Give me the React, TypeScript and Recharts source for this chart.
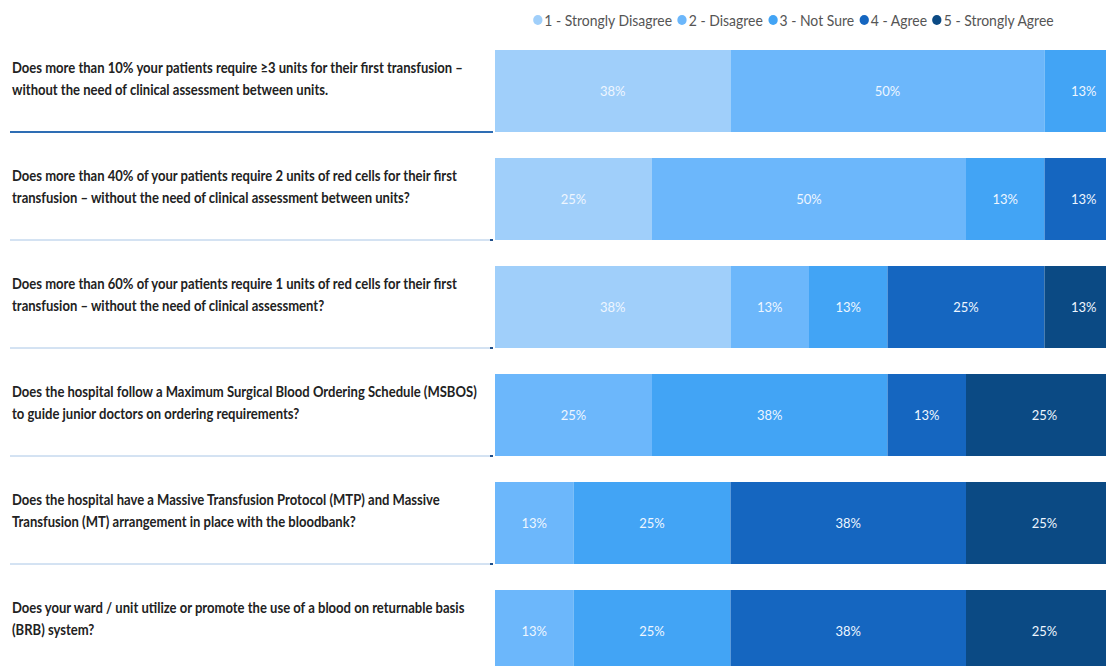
import { BarChart, Bar, XAxis, YAxis, LabelList, Legend } from 'recharts';

const QUESTIONS = [
  'Does more than 10% your patients require ≥3 units for their first transfusion –\nwithout the need of clinical assessment between units.',
  'Does more than 40% of your patients require 2 units of red cells for their first\ntransfusion – without the need of clinical assessment between units?',
  'Does more than 60% of your patients require 1 units of red cells for their first\ntransfusion – without the need of clinical assessment?',
  'Does the hospital follow a Maximum Surgical Blood Ordering Schedule (MSBOS)\nto guide junior doctors on ordering requirements?',
  'Does the hospital have a Massive Transfusion Protocol (MTP) and Massive\nTransfusion (MT) arrangement in place with the bloodbank?',
  'Does your ward / unit utilize or promote the use of a blood on returnable basis\n(BRB) system?',
];

// shares in percent (labels show them rounded)
const STRONGLY_DISAGREE = [37.5, 25, 37.5, 0, 0, 0];
const DISAGREE = [50, 50, 12.5, 25, 12.5, 12.5];
const NOT_SURE = [12.5, 12.5, 12.5, 37.5, 25, 25];
const AGREE = [0, 12.5, 25, 12.5, 37.5, 37.5];
const STRONGLY_AGREE = [0, 0, 12.5, 25, 25, 25];

const SERIES = [
  { key: 'sd', name: '1 - Strongly Disagree', color: '#a0cffa', values: STRONGLY_DISAGREE },
  { key: 'd', name: '2 - Disagree', color: '#6cb7fb', values: DISAGREE },
  { key: 'ns', name: '3 - Not Sure', color: '#42a4f5', values: NOT_SURE },
  { key: 'a', name: '4 - Agree', color: '#1566c0', values: AGREE },
  { key: 'sa', name: '5 - Strongly Agree', color: '#0b4a84', values: STRONGLY_AGREE },
];

const data = QUESTIONS.map((q, i) => {
  const row: Record<string, string | number> = { question: q };
  SERIES.forEach((s) => {
    row[s.key] = s.values[i];
  });
  return row;
});

const FONT = 'Lato, "Open Sans", sans-serif';

const QuestionTick = (props: any) => {
  const { y, payload, index } = props;
  const lines = String(payload.value).split('\n');
  const first = index === 0;
  return (
    <g>
      <g transform="translate(12 0) scale(0.87 1)">
        {lines.map((line: string, i: number) => (
          <text
            key={i}
            x={0}
            y={y - 24 + i * 22}
            fill="#222"
            fontSize={15}
            fontWeight={700}
            fontFamily={FONT}
            dominantBaseline="central"
          >
            {line}
          </text>
        ))}
      </g>
      <line
        x1={10}
        x2={493}
        y1={y + 41}
        y2={y + 41}
        stroke={first ? '#2e6db4' : '#a9c6e6'}
        strokeWidth={first ? 2 : 1}
      />
      {!first && <line x1={490} x2={493} y1={y + 41} y2={y + 41} stroke="#1f4f8a" strokeWidth={2} />}
    </g>
  );
};

const renderPct = (props: any) => {
  const { x, y, width, height, value } = props;
  if (!value) return null;
  return (
    <text
      x={x + width / 2}
      y={y + height / 2}
      fill="#eef6ff"
      textAnchor="middle"
      dominantBaseline="central"
      fontSize={13}
      fontFamily={FONT}
    >
      {`${Math.round(value)}%`}
    </text>
  );
};

const LegendContent = () => (
  <div
    style={{
      display: 'flex',
      gap: 6,
      fontFamily: FONT,
      fontSize: 15,
      color: '#555',
      whiteSpace: 'nowrap',
      transform: 'scaleX(0.93)',
      transformOrigin: 'right center',
    }}
  >
    {SERIES.map((s) => (
      <span key={s.key} style={{ display: 'flex', alignItems: 'center' }}>
        <span
          style={{
            display: 'inline-block',
            width: 10,
            height: 10,
            borderRadius: '50%',
            background: s.color,
            marginRight: 2,
          }}
        />
        {s.name}
      </span>
    ))}
  </div>
);

export default function App() {
  return (
    <div style={{ position: 'fixed', top: 0, left: 0, width: 1106, height: 666, overflow: 'hidden', background: '#fff' }}>
      <BarChart
        width={1123}
        height={685}
        data={data}
        layout="vertical"
        stackOffset="expand"
        barCategoryGap={13}
        margin={{ top: 37, right: 0, bottom: 0, left: 0 }}
      >
        <XAxis type="number" domain={[0, 1]} hide />
        <YAxis
          type="category"
          dataKey="question"
          width={495}
          axisLine={false}
          tickLine={false}
          tick={<QuestionTick />}
          interval={0}
        />
        <Legend
          verticalAlign="middle"
          layout="horizontal"
          wrapperStyle={{ top: 11, right: 69, left: 'auto', width: 'auto' }}
          content={<LegendContent />}
        />
        {SERIES.map((s) => (
          <Bar key={s.key} dataKey={s.key} name={s.name} stackId="q" fill={s.color} isAnimationActive={false}>
            <LabelList dataKey={s.key} content={renderPct} />
          </Bar>
        ))}
      </BarChart>
    </div>
  );
}
